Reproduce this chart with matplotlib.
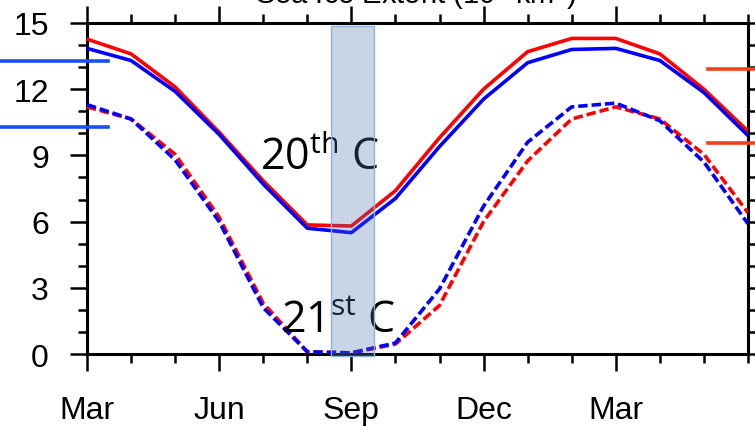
import numpy as np
import matplotlib.pyplot as plt
from matplotlib.patches import Rectangle
import matplotlib.transforms as mtransforms

# months from March (0) through June of the following year (15)
months = np.arange(16)
tick_pos = [0, 3, 6, 9, 12]
tick_labels = ['Mar', 'Jun', 'Sep', 'Dec', 'Mar']

# 20th century (solid) and 21st century (dashed), two runs each
red_20c = [14.27, 13.6, 12.1, 10.05, 7.85, 5.85, 5.8, 7.4, 9.8, 12.0, 13.7, 14.3, 14.3, 13.6, 12.0, 10.1]
blue_20c = [13.85, 13.3, 11.9, 9.95, 7.7, 5.7, 5.5, 7.05, 9.4, 11.55, 13.2, 13.8, 13.85, 13.3, 11.85, 9.9]
red_21c = [11.2, 10.65, 9.05, 6.2, 2.3, 0.1, 0.05, 0.45, 2.2, 6.0, 8.75, 10.65, 11.2, 10.65, 9.05, 6.4]
blue_21c = [11.3, 10.65, 8.8, 6.0, 2.1, 0.1, 0.05, 0.5, 2.95, 6.7, 9.6, 11.2, 11.37, 10.57, 8.7, 5.9]

# observed levels marked at the sides of the plot
blue_marks = [13.28, 10.29]
red_marks = [12.9, 9.56]

# September highlight band
band_x = (5.54, 6.52)
band_y = (-0.1, 14.86)

fig = plt.figure(figsize=(7.55, 4.27), dpi=100)
ax = fig.add_axes([0.1152, 0.1686, 0.8755, 0.7752])

dash = (0, (2.6, 1.1))
ax.plot(months, red_20c, color='red', lw=2.6, zorder=3)
ax.plot(months, blue_20c, color='blue', lw=2.6, zorder=3)
ax.plot(months, red_21c, color='red', lw=2.6, ls=dash, zorder=3)
ax.plot(months, blue_21c, color='blue', lw=2.6, ls=dash, zorder=3)

ax.set_xlim(0, 15)
ax.set_ylim(0, 15)
ax.set_xticks(tick_pos)
ax.set_xticklabels(tick_labels)
ax.set_xticks(months, minor=True)
ax.set_yticks(np.arange(0, 16, 3))
ax.set_yticks(np.arange(0, 16, 1), minor=True)

for s in ax.spines.values():
    s.set_linewidth(2.2)
ax.tick_params(which='both', direction='out', top=True, right=True, width=1.8,
               labelsize=23, labelfontfamily='Liberation Sans')
ax.tick_params(which='major', length=12.5, pad=15)
ax.tick_params(axis='x', which='major', pad=17)
ax.tick_params(which='minor', length=6.5)

# overlay text
ax.text(3.93, 8.9, r'20$^{\mathregular{th}}$ C', fontsize=31, family='Open Sans',
        ha='left', va='center', zorder=4)
ax.text(4.4, 1.5, r'21$^{\mathregular{st}}$ C', fontsize=31, family='Open Sans',
        ha='left', va='center', zorder=4)

ax.add_patch(Rectangle((band_x[0], band_y[0]), band_x[1] - band_x[0], band_y[1] - band_y[0],
                       facecolor=(0.3, 0.45, 0.68, 0.3), edgecolor=(0.55, 0.7, 0.88),
                       lw=1, zorder=5, clip_on=False))

# side markers (axes x-coords, data y)
trans = mtransforms.blended_transform_factory(ax.transAxes, ax.transData)
for y in blue_marks:
    ax.plot([-0.132, 0.032], [y, y], color=(0.1, 0.3, 0.95), lw=2.6,
            transform=trans, clip_on=False, zorder=6)
for y in red_marks:
    ax.plot([0.94, 1.02], [y, y], color=(0.95, 0.25, 0.1), lw=2.6,
            transform=trans, clip_on=False, zorder=6)

# title, mostly cut off by the top edge
fig.text(0.55, 0.991, 'Sea Ice Extent (10$^{\\mathregular{6}}$ km$^{\\mathregular{2}}$)',
         fontsize=21, family='Liberation Sans', ha='center', va='baseline')

fig.savefig('out.png', dpi=100)
